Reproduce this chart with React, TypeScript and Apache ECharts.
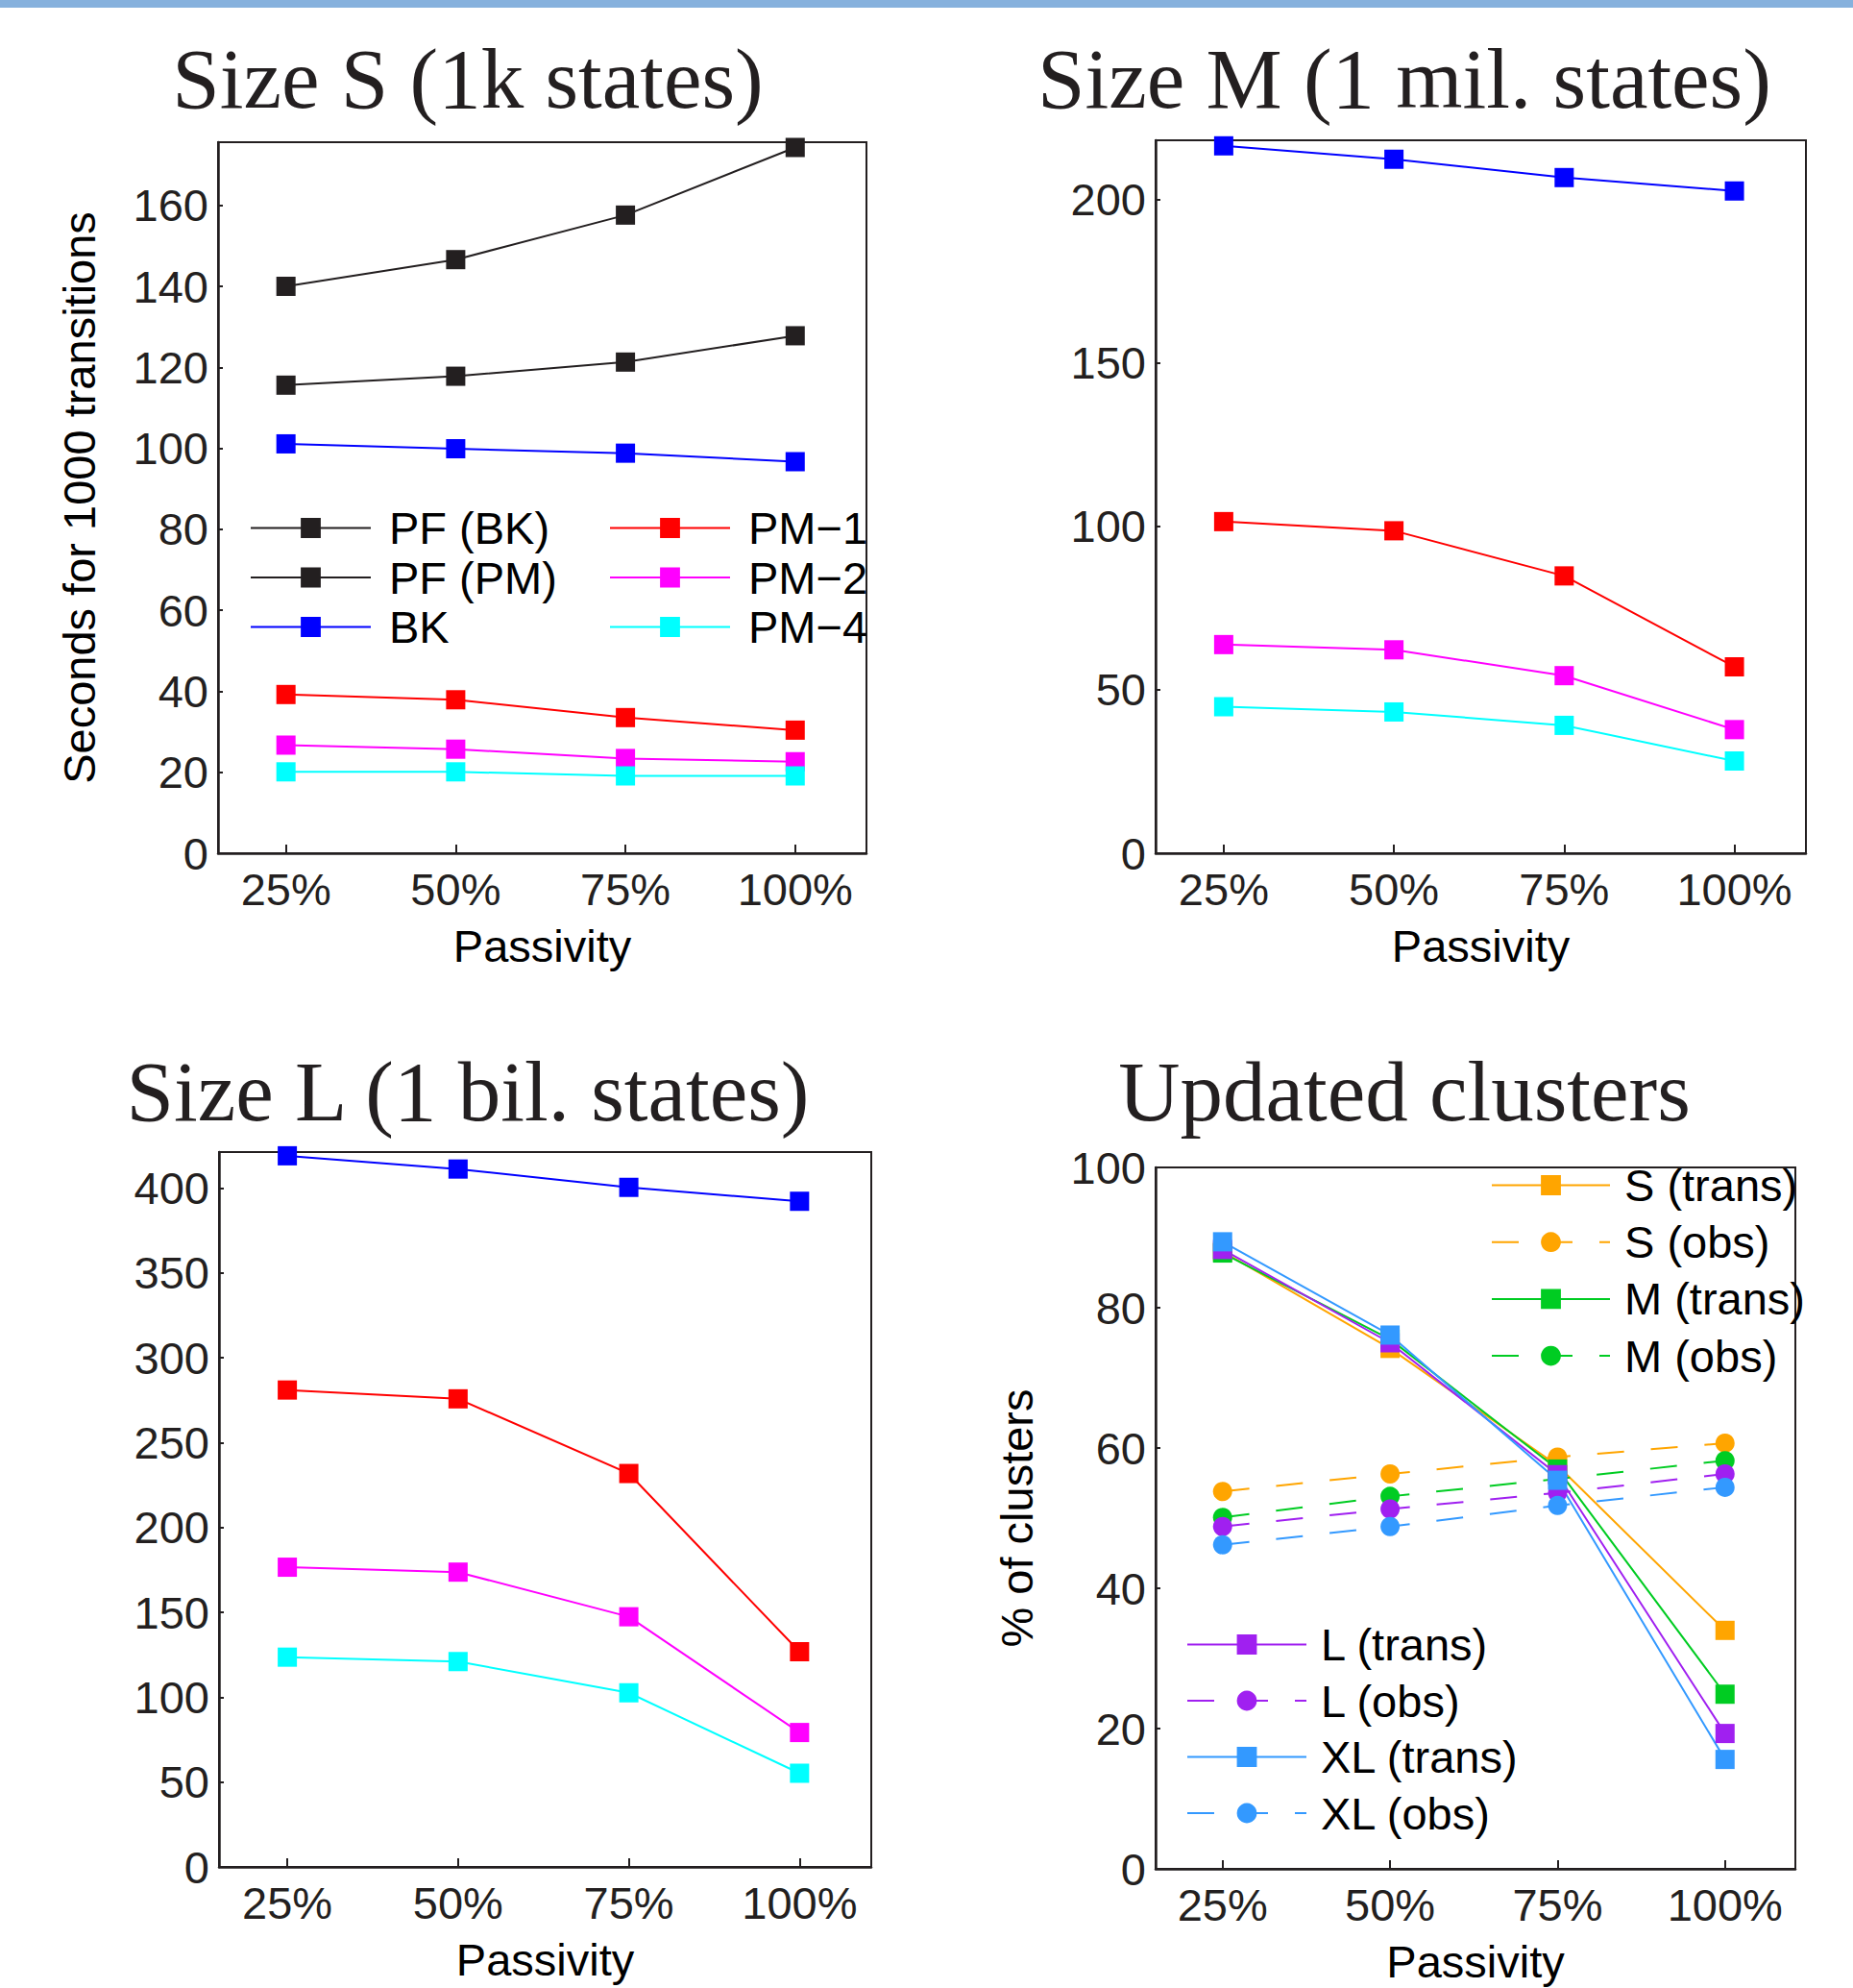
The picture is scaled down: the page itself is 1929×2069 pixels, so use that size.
import React, { useEffect, useRef } from 'react';
import * as echarts from 'echarts';

// ---------- data ----------
const passivity = [25, 50, 75, 100];

// Size S (1k states)
const sPfBk = [140, 146.6, 157.6, 174.3];
const sPfPm = [115.6, 117.8, 121.3, 127.8];
const sBk = [101.1, 99.9, 98.8, 96.7];
const sPm1 = [39.2, 37.9, 33.5, 30.4];
const sPm2 = [26.7, 25.7, 23.4, 22.6];
const sPm4 = [20.1, 20.1, 19.1, 19.1];

// Size M (1 mil. states)
const mBk = [216.3, 212.2, 206.6, 202.5];
const mPm1 = [101.4, 98.6, 84.8, 57.0];
const mPm2 = [63.8, 62.2, 54.3, 37.8];
const mPm4 = [44.8, 43.2, 39.1, 28.2];

// Size L (1 bil. states)
const lBk = [419, 411.2, 400.4, 392.2];
const lPm1 = [281, 275.8, 231.8, 126.8];
const lPm2 = [176.6, 173.7, 147.4, 79.2];
const lPm4 = [123.6, 121, 102.6, 55.2];

// Updated clusters (%)
const cSTrans = [88.0, 74.2, 57.5, 34.0];
const cSObs = [53.8, 56.3, 58.7, 60.7];
const cMTrans = [87.8, 75.5, 57.0, 24.9];
const cMObs = [50.1, 53.1, 55.6, 58.2];
const cLTrans = [88.3, 75.0, 56.2, 19.3];
const cLObs = [48.8, 51.3, 53.6, 56.3];
const cXLTrans = [89.4, 76.1, 55.4, 15.6];
const cXLObs = [46.2, 48.8, 51.8, 54.4];

const yTicksS = [0, 20, 40, 60, 80, 100, 120, 140, 160];
const yTicksM = [0, 50, 100, 150, 200];
const yTicksL = [0, 50, 100, 150, 200, 250, 300, 350, 400];
const yTicksC = [0, 20, 40, 60, 80, 100];

const titles = ['Size S (1k states)', 'Size M (1 mil. states)', 'Size L (1 bil. states)', 'Updated clusters'];

// ---------- styling ----------
const AX = '#231f20';
const SANS = '"Liberation Sans", Arial, sans-serif';
const SERIF = '"Liberation Serif", "Times New Roman", serif';
const FS = 47;
const C = {
  black: '#231f20',
  blue: '#0000ff',
  red: '#ff0000',
  magenta: '#ff00ff',
  cyan: '#00ffff',
  orange: '#ffa500',
  green: '#00cc22',
  purple: '#a020f0',
  xl: '#3399ff',
};

const pairs = (ys: number[]) => passivity.map((x, i) => [x, ys[i]]);

function makeX(gridIndex: number) {
  return {
    gridIndex,
    type: 'value',
    min: 15,
    max: 110.5,
    axisLine: { show: true, onZero: false, lineStyle: { color: AX, width: 2.5 } },
    axisTick: { show: true, inside: true, length: 9, customValues: passivity, lineStyle: { color: AX, width: 2 } },
    axisLabel: {
      customValues: passivity,
      formatter: (v: number) => v + '%',
      fontSize: FS,
      margin: 14,
      color: AX,
      fontFamily: SANS,
    },
    splitLine: { show: false },
    name: 'Passivity',
    nameLocation: 'middle',
    nameGap: 73,
    nameTextStyle: { fontSize: FS, color: '#000', fontFamily: SANS },
  };
}

function makeY(gridIndex: number, max: number, ticks: number[], name?: string) {
  return {
    gridIndex,
    type: 'value',
    min: 0,
    max,
    axisLine: { show: true, onZero: false, lineStyle: { color: AX, width: 2.5 } },
    axisTick: { show: true, inside: true, length: 5, customValues: ticks, lineStyle: { color: AX, width: 2 } },
    axisLabel: { customValues: ticks, fontSize: FS, margin: 10, color: AX, fontFamily: SANS },
    splitLine: { show: false },
    name: name || '',
    nameLocation: 'middle',
    nameGap: 121,
    nameTextStyle: { fontSize: FS, color: '#000', fontFamily: SANS },
  };
}

function line(name: string, data: number[], color: string, axis: number, opts: any = {}) {
  return {
    type: 'line',
    name,
    xAxisIndex: axis,
    yAxisIndex: axis,
    data: pairs(data),
    symbol: opts.symbol || 'rect',
    symbolSize: 20,
    clip: false,
    lineStyle: { color, width: 2, type: opts.dashed ? [28, 28] : 'solid' },
    itemStyle: { color },
  };
}

function legendBase(textPad: number) {
  return {
    orient: 'vertical',
    padding: 0,
    selectedMode: false,
    lineStyle: { width: 2 },
    textStyle: { fontSize: FS, lineHeight: FS, color: '#000', fontFamily: SANS, padding: [0, 0, 0, textPad] },
  };
}

const option: any = {
  animation: false,
  backgroundColor: '#ffffff',
  textStyle: { fontFamily: SANS },
  grid: [
    { left: 227, top: 148, width: 675, height: 740, show: true, borderColor: AX, borderWidth: 2, backgroundColor: 'transparent' },
    { left: 1203, top: 146, width: 677, height: 742, show: true, borderColor: AX, borderWidth: 2, backgroundColor: 'transparent' },
    { left: 228, top: 1199, width: 679, height: 744, show: true, borderColor: AX, borderWidth: 2, backgroundColor: 'transparent' },
    { left: 1203, top: 1215, width: 666, height: 730, show: true, borderColor: AX, borderWidth: 2, backgroundColor: 'transparent' },
  ],
  xAxis: [makeX(0), makeX(1), makeX(2), makeX(3)],
  yAxis: [
    makeY(0, 175.6, yTicksS, 'Seconds for 1000 transitions'),
    makeY(1, 218, yTicksM),
    makeY(2, 421.2, yTicksL),
    makeY(3, 100, yTicksC, '% of clusters'),
  ],
  legend: [
    { ...legendBase(14), data: ['PF (BK)', 'PF (PM)', 'BK'], left: 260, top: 526, itemWidth: 125, itemHeight: 26, itemGap: 4.5 },
    { ...legendBase(14), data: ['PM\u22121', 'PM\u22122', 'PM\u22124'], left: 634, top: 526, itemWidth: 125, itemHeight: 26, itemGap: 4.5 },
    { ...legendBase(10), data: ['S (trans)', 'S (obs)', 'M (trans)', 'M (obs)'], left: 1552, top: 1210, itemWidth: 123, itemHeight: 26, itemGap: 12.2 },
    { ...legendBase(10), data: ['L (trans)', 'L (obs)', 'XL (trans)', 'XL (obs)'], left: 1235, top: 1688, itemWidth: 124, itemHeight: 26, itemGap: 11.5 },
  ],
  graphic: [
    { type: 'rect', shape: { x: 0, y: 0, width: 1929, height: 8 }, style: { fill: '#86b1dd' }, silent: true },
    { type: 'text', x: 487, y: 82, style: { text: titles[0], fontSize: 89, fontFamily: SERIF, fill: AX, align: 'center', verticalAlign: 'middle' } },
    { type: 'text', x: 1462, y: 82, style: { text: titles[1], fontSize: 89, fontFamily: SERIF, fill: AX, align: 'center', verticalAlign: 'middle' } },
    { type: 'text', x: 487, y: 1136, style: { text: titles[2], fontSize: 89, fontFamily: SERIF, fill: AX, align: 'center', verticalAlign: 'middle' } },
    { type: 'text', x: 1462, y: 1136, style: { text: titles[3], fontSize: 89, fontFamily: SERIF, fill: AX, align: 'center', verticalAlign: 'middle' } },
  ],
  series: [
    line('PF (BK)', sPfBk, C.black, 0),
    line('PF (PM)', sPfPm, C.black, 0),
    line('BK', sBk, C.blue, 0),
    line('PM\u22121', sPm1, C.red, 0),
    line('PM\u22122', sPm2, C.magenta, 0),
    line('PM\u22124', sPm4, C.cyan, 0),

    line('BK', mBk, C.blue, 1),
    line('PM\u22121', mPm1, C.red, 1),
    line('PM\u22122', mPm2, C.magenta, 1),
    line('PM\u22124', mPm4, C.cyan, 1),

    line('BK', lBk, C.blue, 2),
    line('PM\u22121', lPm1, C.red, 2),
    line('PM\u22122', lPm2, C.magenta, 2),
    line('PM\u22124', lPm4, C.cyan, 2),

    line('S (trans)', cSTrans, C.orange, 3),
    line('S (obs)', cSObs, C.orange, 3, { symbol: 'circle', dashed: true }),
    line('M (trans)', cMTrans, C.green, 3),
    line('M (obs)', cMObs, C.green, 3, { symbol: 'circle', dashed: true }),
    line('L (trans)', cLTrans, C.purple, 3),
    line('L (obs)', cLObs, C.purple, 3, { symbol: 'circle', dashed: true }),
    line('XL (trans)', cXLTrans, C.xl, 3),
    line('XL (obs)', cXLObs, C.xl, 3, { symbol: 'circle', dashed: true }),
  ],
};

export default function App() {
  const ref = useRef<HTMLDivElement>(null);
  useEffect(() => {
    document.body.style.margin = '0';
    const chart = echarts.init(ref.current as HTMLDivElement, null, { renderer: 'svg' });
    chart.setOption(option);
    return () => chart.dispose();
  }, []);
  return <div ref={ref} style={{ width: 1929, height: 2069 }} />;
}
